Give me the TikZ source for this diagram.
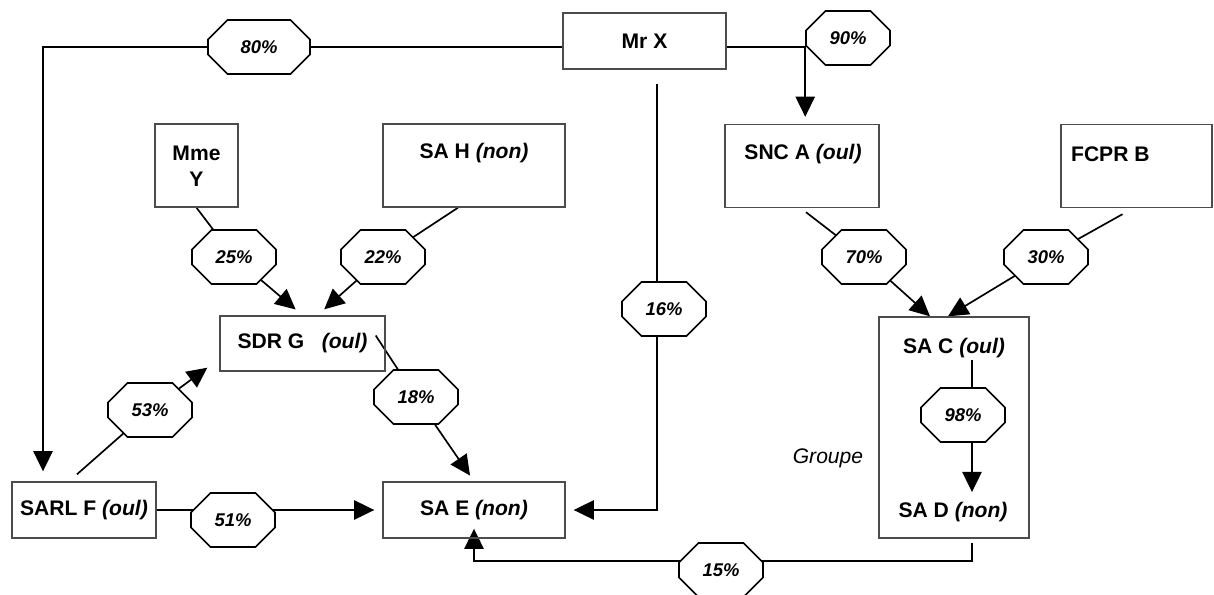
\documentclass[tikz,border=0pt]{standalone}
\usepackage{fontspec}
\setmainfont{Liberation Sans}
\usetikzlibrary{arrows.meta,shapes.misc,calc,backgrounds}

\tikzset{
  entity/.style={draw=black!70, line width=0.8pt, inner sep=0pt,
    font=\fontsize{12}{14}\selectfont\bfseries},
  lbl/.style={inner sep=1pt, align=center,
    font=\fontsize{12}{14.7}\selectfont\bfseries},
  pct/.style={chamfered rectangle, chamfered rectangle xsep=0.22cm,
    chamfered rectangle ysep=0.26cm, draw, fill=white, line width=0.9pt,
    inner sep=0pt, minimum width=1.68cm, minimum height=1.08cm,
    font=\fontsize{10.5}{12}\selectfont\bfseries\itshape},
  link/.style={line width=0.95pt},
  arr/.style={link, -{Triangle[length=11.5pt,width=11pt]}},
}

\begin{document}
\begin{tikzpicture}[x=0.02cm,y=-0.02cm]
  \useasboundingbox (0,0) rectangle (1214,595);

  % entities
  \node[entity, minimum width=3.26cm, minimum height=1.12cm] (MrX) at (644.5,41) {Mr X};
  \node[entity, minimum width=1.66cm, minimum height=1.66cm] (MmeY) at (196.5,165.5) {};
  \node[lbl] (tMmeY) at (196.5,166) {Mme\\Y};
  \node[entity, minimum width=3.64cm, minimum height=1.66cm] (SAH) at (474,165.5) {};
  \node[lbl] (tSAH) at (474,153) {SA H \textit{(non)}};
  \node[entity, minimum width=3.08cm, minimum height=1.66cm] (SNCA) at (802,166) {};
  \node[lbl] (tSNCA) at (803,154) {SNC A \textit{(oul)}};
  \node[entity, minimum width=3.02cm, minimum height=1.66cm] (FCPRB) at (1136.5,166) {};
  \node[lbl, anchor=west] (tFCPRB) at (1069,154) {FCPR B};
  \node[entity, minimum width=3.3cm, minimum height=1.1cm] (SDRG) at (302.5,343.5) {SDR G\hspace{0.35cm}\textit{(oul)}};
  \node[entity, minimum width=2.88cm, minimum height=1.12cm] (SARLF) at (84,510) {SARL F \textit{(oul)}};
  \node[entity, minimum width=3.64cm, minimum height=1.12cm] (SAE) at (474,510) {SA E \textit{(non)}};

  % groupe C + D
  \node[entity, minimum width=3.0cm, minimum height=4.42cm] (grp) at (954,427.5) {};
  \node[lbl] (SAC) at (954,348) {SA C \textit{(oul)}};
  \node[lbl] (SAD) at (953,512) {SA D \textit{(non)}};
  \node[lbl, font=\fontsize{12}{14}\selectfont\itshape] (tGroupe) at (828,458) {Groupe};

  % shares
  \node[pct, minimum width=2.04cm] (o80) at (259,47) {80\%};
  \node[pct] (o90) at (848,38) {90\%};
  \node[pct] (o25) at (234,257) {25\%};
  \node[pct] (o22) at (383,257) {22\%};
  \node[pct] (o16) at (664,309) {16\%};
  \node[pct] (o70) at (864,257) {70\%};
  \node[pct] (o30) at (1046,257) {30\%};
  \node[pct] (o53) at (150,410) {53\%};
  \node[pct] (o18) at (416,397) {18\%};
  \node[pct] (o51) at (233,520) {51\%};
  \node[pct] (o98) at (963,415) {98\%};
  \node[pct] (o15) at (721,570) {15\%};

  \begin{scope}[on background layer]
    \draw[arr] (MrX.west |- o80.center) -| ($(SARLF.north)+(-41,-10)$);
    \draw[arr, shorten >=0.14cm] (MrX.east |- o80.center) -| (o90.west |- SNCA.north);
    \draw[arr, shorten >=0.16cm] ($(MrX.south)+(12.5,14)$) |- (SAE.east);
    \draw[link] (MmeY.south) -- (o25.center);
    \draw[arr, shorten >=0.18cm] (o25.center) -- (SDRG.north);
    \draw[link] ($(SAH.south)+(-16,0)$) -- (o22.center);
    \draw[arr, shorten >=0.18cm] (o22.center) -- ($(SDRG.north)+(15,0)$);
    \draw[link] ($(SNCA.south)+(4,4)$) -- (o70.center);
    \draw[arr] (o70.center) -- ($(grp.north)+(-24,0)$);
    \draw[link] ($(FCPRB.south)+(-14,6)$) -- (o30.center);
    \draw[arr] (o30.center) -- ($(grp.north)+(-6,0)$);
    \draw[link] ($(SARLF.north)+(-7,-7)$) -- (o53.center);
    \draw[arr] (o53.center) -- ($(SDRG.south west)+(-12,-4)$);
    \draw[link] ($(SDRG.east)+(-10,-8)$) -- (o18.center);
    \draw[arr, shorten >=0.14cm] (o18.center) -- (SAE.north);
    \draw[arr, shorten >=0.16cm] (SARLF.east) -- (SAE.west);
    \draw[arr] ($(SAC.south)+(18,0)$) -- ($(SAD.north)+(19,-8)$);
    \draw[arr] ($(grp.south)+(18,4)$) |- ($(SAE.south)+(0,22)$) -- ($(SAE.south)+(0,-10)$);
  \end{scope}
\end{tikzpicture}
\end{document}
